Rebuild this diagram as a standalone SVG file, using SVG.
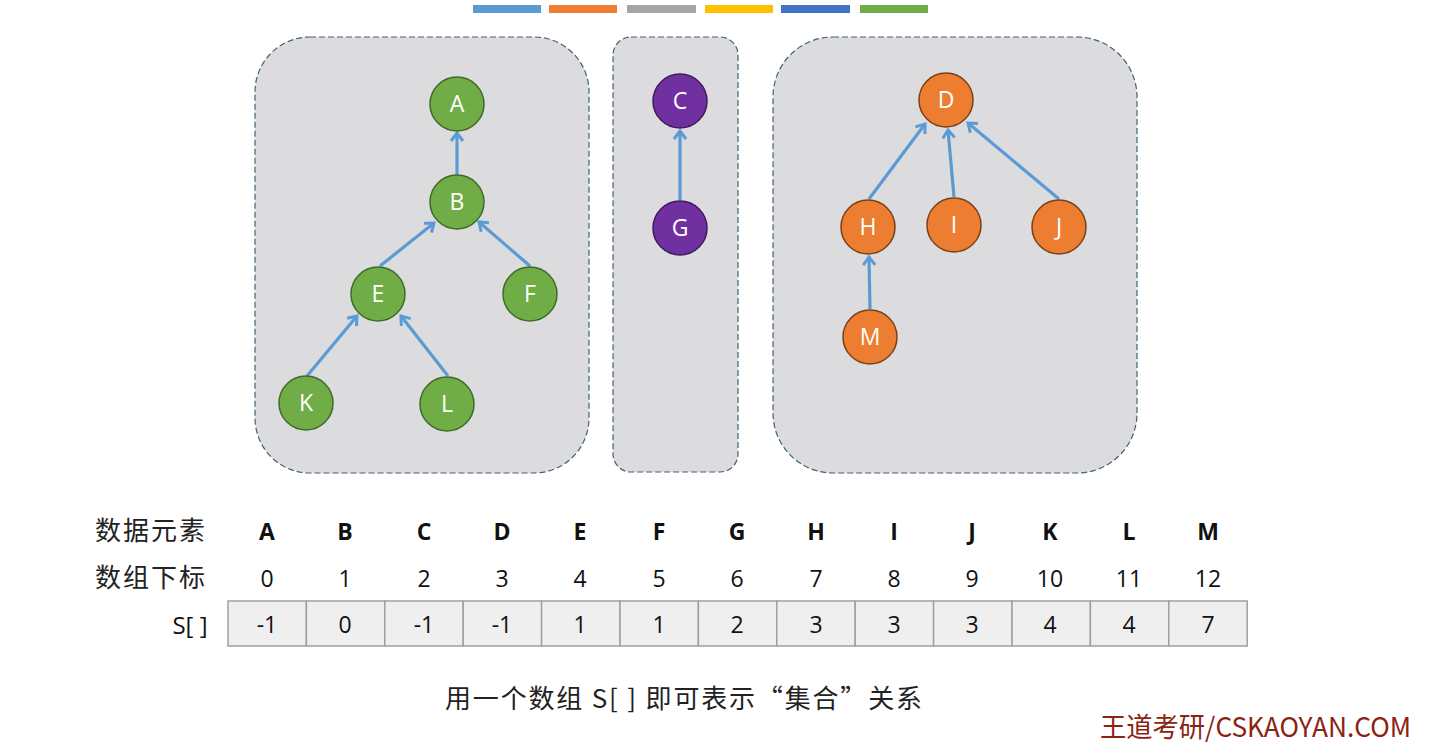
<svg xmlns="http://www.w3.org/2000/svg" width="1448" height="746" viewBox="0 0 1448 746">
<defs>
<style>
.bar{stroke:none}
.box{fill:#DCDCDF;stroke:#3F6373;stroke-width:1.2;stroke-dasharray:6,3}
.g{fill:#70AD47;stroke:#3E6B27;stroke-width:1.5}
.p{fill:#7030A0;stroke:#3F1B5E;stroke-width:1.5}
.o{fill:#ED7D31;stroke:#7A4119;stroke-width:1.5}
.nl{font-family:"Open Sans","Liberation Sans",sans-serif;font-size:23px;fill:#FFFFFF;text-anchor:middle}
.e{stroke:#5B9BD5;stroke-width:3.2;fill:none;marker-end:url(#arr)}
.cn{font-family:"Noto Sans CJK SC",sans-serif;font-size:26px;fill:#222;letter-spacing:2px}
.hd{font-family:"Open Sans","Liberation Sans",sans-serif;font-size:23px;font-weight:bold;fill:#111;text-anchor:middle}
.num{font-family:"Open Sans","Liberation Sans",sans-serif;font-size:23px;fill:#111;text-anchor:middle}
.cell{fill:#EFEFEF;stroke:#A0A0A0;stroke-width:1.5}
</style>
<marker id="arr" markerUnits="userSpaceOnUse" markerWidth="16" markerHeight="16" refX="10" refY="7" orient="auto">
<path d="M2,1 L10,7 L2,13" fill="none" stroke="#5B9BD5" stroke-width="3"/>
</marker>
</defs>
<rect width="1448" height="746" fill="#FFFFFF"/>
<g id="legend">
<rect class="bar" x="473" y="5" width="68" height="8" fill="#5B9BD5"/>
<rect class="bar" x="549" y="5" width="68" height="8" fill="#ED7D31"/>
<rect class="bar" x="627" y="5" width="69" height="8" fill="#A5A5A5"/>
<rect class="bar" x="705" y="5" width="68" height="8" fill="#FFC000"/>
<rect class="bar" x="781" y="5" width="69" height="8" fill="#4472C4"/>
<rect class="bar" x="860" y="5" width="68" height="8" fill="#70AD47"/>
</g>
<g id="set1"><rect class="box" x="255" y="37" width="334" height="436" rx="55"/></g>
<g id="set2"><rect class="box" x="613" y="37" width="125" height="435" rx="18"/></g>
<g id="set3"><rect class="box" x="773" y="37" width="364" height="436" rx="60"/></g>
<g id="connectors">
<line class="e" x1="457" y1="175" x2="457" y2="133"/>
<line class="e" x1="380" y1="266" x2="434" y2="223"/>
<line class="e" x1="530" y1="266" x2="479" y2="222"/>
<line class="e" x1="307" y1="376" x2="357" y2="316"/>
<line class="e" x1="448" y1="376" x2="401" y2="316"/>
<line class="e" x1="680" y1="200" x2="680" y2="131"/>
<line class="e" x1="869" y1="199" x2="925" y2="124"/>
<line class="e" x1="954" y1="197" x2="948" y2="130"/>
<line class="e" x1="1059" y1="199" x2="968" y2="123"/>
<line class="e" x1="870" y1="309" x2="869" y2="257"/>
</g>
<g id="node-A"><circle class="g" cx="457" cy="104" r="27"/><text class="nl" x="457" y="112">A</text></g>
<g id="node-B"><circle class="g" cx="457" cy="202" r="27"/><text class="nl" x="457" y="210">B</text></g>
<g id="node-E"><circle class="g" cx="378" cy="294" r="27"/><text class="nl" x="378" y="302">E</text></g>
<g id="node-F"><circle class="g" cx="530" cy="294" r="27"/><text class="nl" x="530" y="302">F</text></g>
<g id="node-K"><circle class="g" cx="306" cy="403" r="27"/><text class="nl" x="306" y="411">K</text></g>
<g id="node-L"><circle class="g" cx="447" cy="404" r="27"/><text class="nl" x="447" y="412">L</text></g>
<g id="node-C"><circle class="p" cx="680" cy="101" r="27"/><text class="nl" x="680" y="109">C</text></g>
<g id="node-G"><circle class="p" cx="680" cy="228" r="27"/><text class="nl" x="680" y="236">G</text></g>
<g id="node-D"><circle class="o" cx="946" cy="100" r="27"/><text class="nl" x="946" y="108">D</text></g>
<g id="node-H"><circle class="o" cx="868" cy="227" r="27"/><text class="nl" x="868" y="235">H</text></g>
<g id="node-I"><circle class="o" cx="954" cy="225" r="27"/><text class="nl" x="954" y="233">I</text></g>
<g id="node-J"><circle class="o" cx="1059" cy="227" r="27"/><text class="nl" x="1059" y="235">J</text></g>
<g id="node-M"><circle class="o" cx="870" cy="337" r="27"/><text class="nl" x="870" y="345">M</text></g>
<g id="table">
<text class="cn" x="95" y="540">数据元素</text>
<text class="cn" x="95" y="587">数组下标</text>
<text class="num" x="190" y="634" style="font-size:24px">S[ ]</text>
<text class="hd" x="267" y="540">A</text><text class="hd" x="345" y="540">B</text><text class="hd" x="424" y="540">C</text><text class="hd" x="502" y="540">D</text><text class="hd" x="580" y="540">E</text><text class="hd" x="659" y="540">F</text><text class="hd" x="737" y="540">G</text><text class="hd" x="816" y="540">H</text><text class="hd" x="894" y="540">I</text><text class="hd" x="972" y="540">J</text><text class="hd" x="1050" y="540">K</text><text class="hd" x="1129" y="540">L</text><text class="hd" x="1208" y="540">M</text>
<text class="num" x="267" y="587">0</text><text class="num" x="345" y="587">1</text><text class="num" x="424" y="587">2</text><text class="num" x="502" y="587">3</text><text class="num" x="580" y="587">4</text><text class="num" x="659" y="587">5</text><text class="num" x="737" y="587">6</text><text class="num" x="816" y="587">7</text><text class="num" x="894" y="587">8</text><text class="num" x="972" y="587">9</text><text class="num" x="1050" y="587">10</text><text class="num" x="1129" y="587">11</text><text class="num" x="1208" y="587">12</text>
<rect class="cell" x="228" y="601" width="78.4" height="45"/><rect class="cell" x="306.4" y="601" width="78.4" height="45"/><rect class="cell" x="384.8" y="601" width="78.4" height="45"/><rect class="cell" x="463.2" y="601" width="78.4" height="45"/><rect class="cell" x="541.6" y="601" width="78.4" height="45"/><rect class="cell" x="620" y="601" width="78.4" height="45"/><rect class="cell" x="698.4" y="601" width="78.4" height="45"/><rect class="cell" x="776.8" y="601" width="78.4" height="45"/><rect class="cell" x="855.2" y="601" width="78.4" height="45"/><rect class="cell" x="933.6" y="601" width="78.4" height="45"/><rect class="cell" x="1012" y="601" width="78.4" height="45"/><rect class="cell" x="1090.4" y="601" width="78.4" height="45"/><rect class="cell" x="1168.8" y="601" width="78.4" height="45"/>
<text class="num" x="267" y="633">-1</text><text class="num" x="345" y="633">0</text><text class="num" x="424" y="633">-1</text><text class="num" x="502" y="633">-1</text><text class="num" x="580" y="633">1</text><text class="num" x="659" y="633">1</text><text class="num" x="737" y="633">2</text><text class="num" x="816" y="633">3</text><text class="num" x="894" y="633">3</text><text class="num" x="972" y="633">3</text><text class="num" x="1050" y="633">4</text><text class="num" x="1129" y="633">4</text><text class="num" x="1208" y="633">7</text>
</g>
<text x="445" y="708" textLength="477" lengthAdjust="spacing" style="font-family:'Noto Sans CJK SC',sans-serif;font-size:26px;fill:#222">用一个数组 S[ ] 即可表示“集合”关系</text>
<text x="1100" y="737" textLength="311" lengthAdjust="spacingAndGlyphs" style="font-family:'Noto Sans CJK SC',sans-serif;font-size:27px;fill:#8B2312">王道考研/CSKAOYAN.COM</text>
</svg>
